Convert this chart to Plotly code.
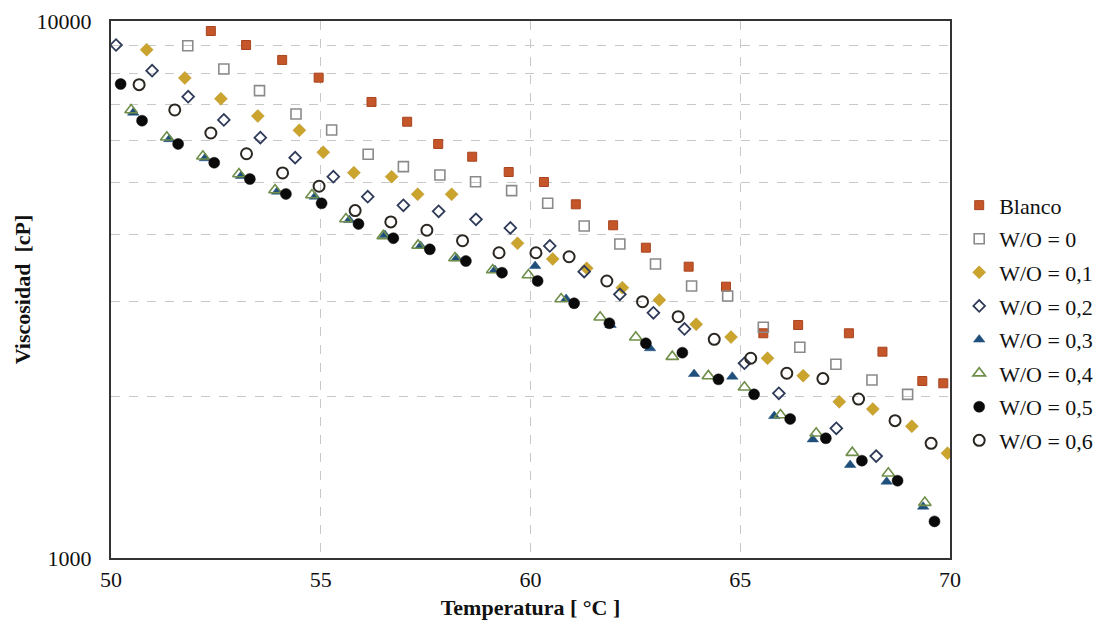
import plotly.graph_objects as go

# ---- data ----
blanco_x = [52.38, 53.22, 54.08, 54.95, 56.21, 57.06, 57.80, 58.61, 59.48, 60.32, 61.08,
            61.97, 62.75, 63.77, 64.66, 65.55, 66.38, 67.59, 68.39, 69.34, 69.84]
blanco_y = [9580, 9022, 8462, 7843, 7067, 6493, 5902, 5588, 5234, 5014, 4557,
            4165, 3783, 3487, 3201, 2621, 2716, 2621, 2422, 2136, 2115]

wo0_x = [51.83, 52.69, 53.54, 54.41, 55.26, 56.13, 56.97, 57.84, 58.69, 59.55, 60.41,
         61.28, 62.13, 62.98, 63.84, 64.70, 65.55, 66.42, 67.28, 68.14, 68.99]
wo0_y = [8995, 8139, 7418, 6712, 6266, 5646, 5355, 5167, 5020, 4831, 4576,
         4152, 3844, 3527, 3211, 3076, 2690, 2469, 2295, 2145, 2017]

wo01_x = [50.85, 51.76, 52.62, 53.50, 54.49, 55.06, 55.79, 56.69, 57.31, 58.12, 59.69,
          60.53, 61.34, 62.19, 63.07, 63.95, 64.78, 65.65, 66.50, 67.36, 68.16, 69.09, 69.94]
wo01_y = [8843, 7834, 7167, 6655, 6259, 5694, 5219, 5130, 4757, 4757, 3855,
          3605, 3463, 3187, 3023, 2724, 2579, 2355, 2185, 1954, 1894, 1759, 1567]

wo02_x = [50.12, 50.98, 51.84, 52.69, 53.56, 54.39, 55.30, 56.12, 56.97, 57.81, 58.70,
          59.52, 60.46, 61.28, 62.13, 62.93, 63.67, 65.10, 65.92, 67.29, 68.24]
wo02_y = [9022, 8080, 7228, 6542, 6064, 5566, 5130, 4708, 4537, 4422, 4272,
          4118, 3811, 3414, 3097, 2862, 2670, 2305, 2026, 1744, 1548]

wo03_x = [50.53, 51.39, 52.24, 53.10, 53.96, 54.86, 55.68, 56.53, 57.38, 58.24, 59.15,
          60.11, 60.85, 61.91, 62.85, 63.90, 64.81, 65.81, 66.73, 67.62, 68.49, 69.36]
wo03_y = [6750, 6024, 5551, 5145, 4810, 4708, 4261, 3996, 3811, 3615, 3438,
          3498, 3036, 2716, 2458, 2201, 2176, 1838, 1663, 1490, 1387, 1246]

wo04_x = [50.48, 51.33, 52.19, 53.05, 53.91, 54.79, 55.60, 56.49, 57.32, 58.20, 59.10,
          59.95, 60.73, 61.66, 62.51, 63.38, 64.24, 65.10, 65.96, 66.81, 67.67, 68.53, 69.40]
wo04_y = [6829, 6075, 5598, 5189, 4845, 4743, 4279, 3979, 3820, 3620, 3438,
          3365, 3036, 2807, 2576, 2371, 2183, 2079, 1846, 1707, 1571, 1438, 1268]

wo05_x = [50.23, 50.74, 51.60, 52.46, 53.31, 54.17, 55.02, 55.90, 56.73, 57.60, 58.46, 59.32,
          60.17, 61.04, 61.88, 62.75, 63.62, 64.48, 65.33, 66.19, 67.04, 67.90, 68.75, 69.63]
wo05_y = [7633, 6522, 5902, 5446, 5079, 4763, 4576, 4188, 3940, 3757, 3573, 3399,
          3280, 2981, 2736, 2511, 2412, 2151, 2017, 1815, 1671, 1518, 1393, 1170]

wo06_x = [50.67, 51.52, 52.38, 53.23, 54.09, 54.96, 55.82, 56.67, 57.53, 58.38, 59.25, 60.13,
          60.92, 61.82, 62.67, 63.52, 64.38, 65.25, 66.11, 66.97, 67.82, 68.69, 69.55]
wo06_y = [7611, 6829, 6186, 5660, 5212, 4923, 4435, 4225, 4077, 3898, 3702, 3702,
          3639, 3280, 3001, 2814, 2554, 2355, 2208, 2158, 1977, 1802, 1635]

y_tickvals = [1000, 2000, 3000, 4000, 5000, 6000, 7000, 8000, 9000, 10000]
y_ticktext = ["1000", "", "", "", "", "", "", "", "", "10000"]
x_tickvals = [50, 55, 60, 65, 70]

SERIF = "Liberation Serif, Times New Roman, serif"
FS = 22

series = [
    ("Blanco", blanco_x, blanco_y, dict(symbol="square", size=9, color="#C4562A",
                                        line=dict(color="#A84520", width=1))),
    ("W/O = 0", wo0_x, wo0_y, dict(symbol="square-open", size=10, color="#8A8A8A",
                                   line=dict(color="#8A8A8A", width=1.6))),
    ("W/O = 0,1", wo01_x, wo01_y, dict(symbol="diamond", size=10, color="#CBA42E",
                                       line=dict(color="#B8922A", width=0.5))),
    ("W/O = 0,2", wo02_x, wo02_y, dict(symbol="diamond-open", size=9, color="#2F3A58",
                                       line=dict(color="#2F3A58", width=1.8))),
    ("W/O = 0,3", wo03_x, wo03_y, dict(symbol="triangle-up", size=10, color="#1F4F7A",
                                       line=dict(color="#1F4F7A", width=0.5))),
    ("W/O = 0,4", wo04_x, wo04_y, dict(symbol="triangle-up-open", size=11, color="#6E8E4A",
                                       line=dict(color="#6E8E4A", width=1.6))),
    ("W/O = 0,5", wo05_x, wo05_y, dict(symbol="circle", size=11, color="#0A0A0A",
                                       line=dict(color="#0A0A0A", width=0.5))),
    ("W/O = 0,6", wo06_x, wo06_y, dict(symbol="circle-open", size=11, color="#2A2620",
                                       line=dict(color="#2A2620", width=2))),
]

fig = go.Figure()
for i, (name, xs, ys, mk) in enumerate(series):
    fig.add_trace(go.Scatter(x=xs, y=ys, mode="markers", name=name, marker=mk,
                             legendgroup=f"g{i}"))

fig.update_layout(
    width=1100, height=627,
    margin=dict(l=111, r=150, t=21, b=69, autoexpand=False),
    paper_bgcolor="white", plot_bgcolor="white",
    font=dict(family=SERIF, size=FS, color="#111"),
    legend=dict(xref="container", yref="container", x=0.872, y=0.706,
                xanchor="left", yanchor="top",
                font=dict(family=SERIF, size=FS, color="#111"),
                tracegroupgap=2, itemsizing="trace", itemwidth=30,
                bgcolor="rgba(0,0,0,0)"),
    showlegend=True,
)

fig.update_xaxes(
    range=[50, 70], tickvals=x_tickvals, ticks="", automargin=False,
    showgrid=True, gridcolor="#C8C8C8", griddash="dash", gridwidth=1,
    showline=True, linecolor="#333", linewidth=2, mirror=True,
    zeroline=False, tickfont=dict(family=SERIF, size=FS, color="#111"),
    ticklabelstandoff=1,
    title=dict(text="<b>Temperatura [ °C ]</b>", font=dict(family=SERIF, size=FS, color="#111"),
               standoff=8),
)
fig.update_yaxes(
    type="log", range=[3, 4], tickvals=y_tickvals, ticktext=y_ticktext, ticks="",
    automargin=False,
    showgrid=True, gridcolor="#C8C8C8", griddash="dash", gridwidth=1,
    showline=True, linecolor="#333", linewidth=2, mirror=True,
    zeroline=False, tickfont=dict(family=SERIF, size=FS, color="#111"),
    ticklabelstandoff=13,
    title=dict(text="<b>Viscosidad  [cP]</b>", font=dict(family=SERIF, size=FS, color="#111"),
               standoff=0),
)

fig.write_html("out.html")
